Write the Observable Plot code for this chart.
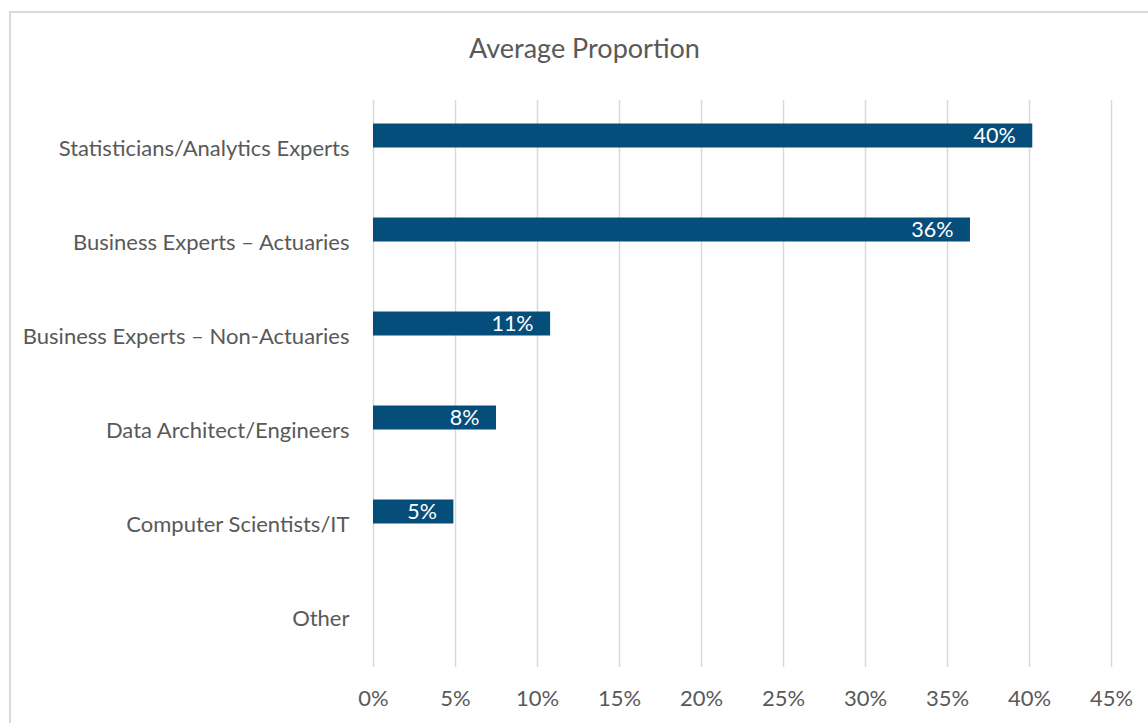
<!DOCTYPE html>
<html>
<head>
<meta charset="utf-8">
<script src="https://cdn.jsdelivr.net/npm/d3@7"></script>
<script src="https://cdn.jsdelivr.net/npm/@observablehq/plot@0.6"></script>
<style>
  html, body { margin: 0; padding: 0; background: #fff; overflow: hidden; }
  #wrap { position: relative; width: 1148px; height: 723px; }
  #border { position: absolute; left: 9px; top: 11px; width: 1160px; height: 740px;
            border: 2px solid #d9d9d9; box-sizing: border-box; pointer-events: none; }
  #chart { position: absolute; left: 0; top: 0; }
</style>
</head>
<body>
<div id="wrap">
  <div id="chart"></div>
  <div id="border"></div>
</div>
<script>
const title = "Average Proportion";
const categories = [
  "Statisticians/Analytics Experts",
  "Business Experts – Actuaries",
  "Business Experts – Non-Actuaries",
  "Data Architect/Engineers",
  "Computer Scientists/IT",
  "Other"
];
const values = [0.402, 0.364, 0.108, 0.075, 0.049, 0];
const xTicks = [0, 0.05, 0.10, 0.15, 0.20, 0.25, 0.30, 0.35, 0.40, 0.45];

const data = categories.map((c, i) => ({category: c, value: values[i]}));
const labelled = data.filter(d => d.value > 0);

const font = "Lato, 'Open Sans', sans-serif";
const textColor = "#595959";
const barColor = "#054E7C";
const pct = d3.format(".0%");

const chart = Plot.plot({
  width: 1148,
  height: 723,
  marginTop: 100,
  marginBottom: 56,
  marginLeft: 373,
  marginRight: 37,
  style: {fontFamily: font, fontSize: "22px", color: textColor, background: "transparent"},
  x: {domain: [0, 0.45], ticks: xTicks, tickFormat: pct, label: null},
  y: {domain: categories, paddingInner: 0.74, paddingOuter: 0.37, label: null},
  marks: [
    Plot.gridX(xTicks, {stroke: "#d9d9d9", strokeOpacity: 1, strokeWidth: 1.5}),
    Plot.axisX({ticks: xTicks, tickFormat: pct, tickSize: 0, tickPadding: 23, fill: textColor, fontSize: 22, label: null}),
    Plot.axisY({tickSize: 0, tickPadding: 24, fill: textColor, fontSize: 22, label: null}),
    Plot.barX(data, {x: "value", y: "category", fill: barColor, dy: -12.5}),
    Plot.text(labelled, {x: "value", y: "category", text: d => pct(d.value), textAnchor: "end", dx: -17, dy: -12.5, fill: "white", fontSize: 21.5}),
    Plot.text([title], {frameAnchor: "top", lineAnchor: "middle", dx: -158, dy: -51, text: d => d, fill: textColor, fontSize: 27})
  ]
});
chart.setAttribute("font-family", font);
document.getElementById("chart").appendChild(chart);
</script>
</body>
</html>
